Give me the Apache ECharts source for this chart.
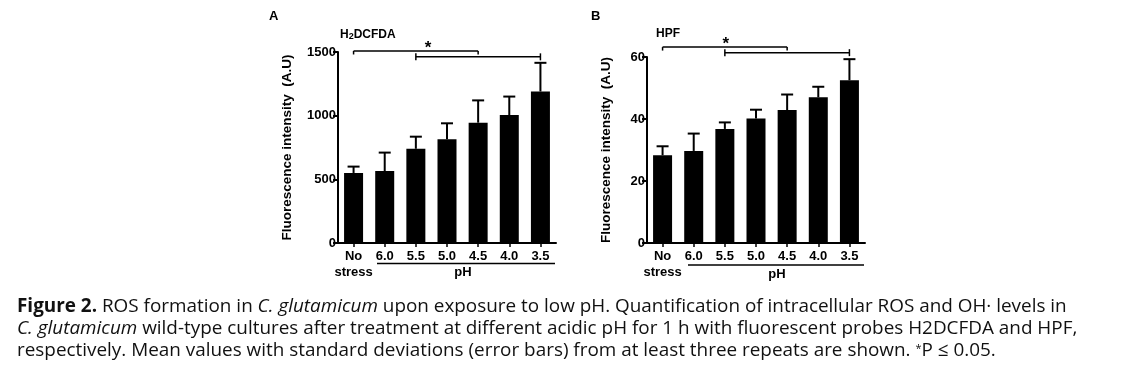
<!DOCTYPE html>
<html>
<head>
<meta charset="utf-8">
<script src="https://cdn.jsdelivr.net/npm/echarts@6/dist/echarts.min.js"></script>
<style>
html,body{margin:0;padding:0;background:#fff;}
#chart{width:1128px;height:369px;}
</style>
</head>
<body>
<div id="chart"></div>
<script>
// ---- data ----
const categories = ['No\nstress', '6.0', '5.5', '5.0', '4.5', '4.0', '3.5'];
const h2dcfdaMean = [550, 565, 740, 815, 945, 1005, 1190];
const h2dcfdaSD   = [50, 145, 95, 125, 175, 145, 225];
const hpfMean = [28.3, 29.7, 36.8, 40.2, 42.9, 47.0, 52.5];
const hpfSD   = [2.9, 5.6, 2.1, 2.8, 5.0, 3.4, 6.8];
const yTicksA = [0, 500, 1000, 1500];
const yTicksB = [0, 20, 40, 60];
// brackets: [fromCategory, toCategory, level, style(0 = ends down, 1 = ends both), star position (category coord, -1 = none)]
const bracketsA = [[0, 4, 1508, 0, 2.39], [2, 6, 1462, 1, -1]];
const bracketsB = [[0, 4, 63.2, 0, 2.03], [2, 6, 61.4, 1, -1]];

const FONT = '"Liberation Sans", Arial, Helvetica, sans-serif';
const CAPFONT = '"Open Sans", "Liberation Sans", Arial, sans-serif';
const CAPSIZE = 18.9;
const chart = echarts.init(document.getElementById('chart'));

function errRender(params, api) {
  const x = api.value(0), m = api.value(1), s = api.value(2);
  const p0 = api.coord([x, m]);
  const p1 = api.coord([x, m + s]);
  const h = 6;
  const st = { stroke: '#000', lineWidth: 2 };
  return { type: 'group', children: [
    { type: 'line', shape: { x1: p0[0], y1: p0[1], x2: p1[0], y2: p1[1] }, style: st },
    { type: 'line', shape: { x1: p1[0] - h, y1: p1[1], x2: p1[0] + h, y2: p1[1] }, style: st }
  ]};
}
function bracketRender(params, api) {
  const a = api.value(0), b = api.value(1), lv = api.value(2), kind = api.value(3), star = api.value(4);
  const p0 = api.coord([a, lv]);
  const p1 = api.coord([b, lv]);
  const t = 3.5;
  const st = { stroke: '#000', lineWidth: 1.5, fill: null };
  const up = kind === 1 ? t : 0;
  const children = [
    { type: 'line', shape: { x1: p0[0], y1: p0[1], x2: p1[0], y2: p1[1] }, style: st },
    { type: 'line', shape: { x1: p0[0], y1: p0[1] - up, x2: p0[0], y2: p0[1] + t }, style: st },
    { type: 'line', shape: { x1: p1[0], y1: p1[1] - up, x2: p1[0], y2: p1[1] + t }, style: st }
  ];
  if (star >= 0) {
    const f = Math.floor(star);
    const q0 = api.coord([f, lv]);
    const q1 = api.coord([f + 1, lv]);
    const sx = q0[0] + (q1[0] - q0[0]) * (star - f);
    children.push({ type: 'text', style: { text: '*', x: sx, y: p0[1] - 3,
      textAlign: 'center', textVerticalAlign: 'middle', font: 'bold 17px ' + FONT, fill: '#000' } });
  }
  return { type: 'group', children };
}

function yAxis(idx, ticks, gap) {
  return {
    type: 'value', gridIndex: idx, min: ticks[0], max: ticks[ticks.length - 1],
    interval: ticks[1] - ticks[0],
    name: 'Fluorescence intensity  (A.U)', nameLocation: 'middle', nameGap: gap, nameRotate: 90,
    nameTextStyle: { fontFamily: FONT, fontWeight: 'bold', fontSize: 13.5, color: '#000' },
    axisLine: { show: true, lineStyle: { color: '#000', width: 2 } },
    axisTick: { show: true, length: 5, lineStyle: { color: '#000', width: 2 } },
    axisLabel: { fontFamily: FONT, fontWeight: 'bold', fontSize: 13, color: '#000', margin: 2,
      formatter: v => String(v) },
    splitLine: { show: false }
  };
}
function xAxis(idx) {
  return {
    type: 'category', gridIndex: idx, data: categories,
    axisLine: { show: true, lineStyle: { color: '#000', width: 2 } },
    axisTick: { show: true, alignWithLabel: true, length: 4, lineStyle: { color: '#000', width: 1.5 } },
    axisLabel: { interval: 0, fontFamily: FONT, fontWeight: 'bold', fontSize: 13, color: '#000', margin: 5, lineHeight: 16 }
  };
}

const option = {
  animation: false,
  backgroundColor: '#fff',
  title: [
    { text: 'A', left: 264, top: 5, textStyle: { fontFamily: FONT, fontWeight: 'bold', fontSize: 13, color: '#000' } },
    { text: 'B', left: 586, top: 5, textStyle: { fontFamily: FONT, fontWeight: 'bold', fontSize: 13, color: '#000' } },
    { text: 'H{sub|2}DCFDA', left: 335, top: 23, textStyle: { fontFamily: FONT, fontWeight: 'bold', fontSize: 12, color: '#000',
        rich: { sub: { fontFamily: FONT, fontWeight: 'bold', fontSize: 9, color: '#000', verticalAlign: 'bottom', padding: [4, 0, 0, 0] } } } },
    { text: 'HPF', left: 651, top: 23, textStyle: { fontFamily: FONT, fontWeight: 'bold', fontSize: 12, color: '#000' } }
  ],
  grid: [
    { left: 338, top: 52, width: 218, height: 191 },
    { left: 647, top: 57, width: 218, height: 186 }
  ],
  xAxis: [xAxis(0), xAxis(1)],
  yAxis: [yAxis(0, yTicksA, 44), yAxis(1, yTicksB, 34)],
  series: [
    { type: 'bar', xAxisIndex: 0, yAxisIndex: 0, data: h2dcfdaMean, barWidth: 19, itemStyle: { color: '#000' }, z: 2 },
    { type: 'custom', xAxisIndex: 0, yAxisIndex: 0, renderItem: errRender, clip: false, z: 3,
      data: h2dcfdaMean.map((m, i) => [i, m, h2dcfdaSD[i]]) },
    { type: 'custom', xAxisIndex: 0, yAxisIndex: 0, renderItem: bracketRender, clip: false, z: 3, data: bracketsA },
    { type: 'bar', xAxisIndex: 1, yAxisIndex: 1, data: hpfMean, barWidth: 19, itemStyle: { color: '#000' }, z: 2 },
    { type: 'custom', xAxisIndex: 1, yAxisIndex: 1, renderItem: errRender, clip: false, z: 3,
      data: hpfMean.map((m, i) => [i, m, hpfSD[i]]) },
    { type: 'custom', xAxisIndex: 1, yAxisIndex: 1, renderItem: bracketRender, clip: false, z: 3, data: bracketsB }
  ],
  graphic: [
    { type: 'line', shape: { x1: 377, y1: 263.5, x2: 555, y2: 263.5 }, style: { stroke: '#000', lineWidth: 1.5 } },
    { type: 'text', x: 463, y: 272, style: { text: 'pH', font: 'bold 13px ' + FONT, fill: '#000', textAlign: 'center', textVerticalAlign: 'middle' } },
    { type: 'line', shape: { x1: 688, y1: 265, x2: 864, y2: 265 }, style: { stroke: '#000', lineWidth: 1.5 } },
    { type: 'text', x: 777, y: 274, style: { text: 'pH', font: 'bold 13px ' + FONT, fill: '#000', textAlign: 'center', textVerticalAlign: 'middle' } },
    { type: 'text', x: 17, y: 296, style: {
        text: '{b|Figure 2.} ROS formation in {i|C. glutamicum} upon exposure to low pH. Quantification of intracellular ROS and OH· levels in\n' +
              '{i|C. glutamicum} wild-type cultures after treatment at different acidic pH for 1 h with fluorescent probes H2DCFDA and HPF,\n' +
              'respectively. Mean values with standard deviations (error bars) from at least three repeats are shown. {sup|*}P ≤ 0.05.',
        font: CAPSIZE + 'px ' + CAPFONT, fill: '#111', lineHeight: 22,
        rich: {
          b: { fontWeight: 'bold', fontSize: CAPSIZE, fontFamily: CAPFONT, fill: '#111', lineHeight: 22 },
          i: { fontStyle: 'italic', fontSize: CAPSIZE, fontFamily: CAPFONT, fill: '#111', lineHeight: 22 },
          sup: { fontSize: 11, fontFamily: CAPFONT, fill: '#111', lineHeight: 22, verticalAlign: 'top', padding: [3, 0, 0, 0] }
        }
      } }
  ]
};
chart.setOption(option);
</script>
</body>
</html>
